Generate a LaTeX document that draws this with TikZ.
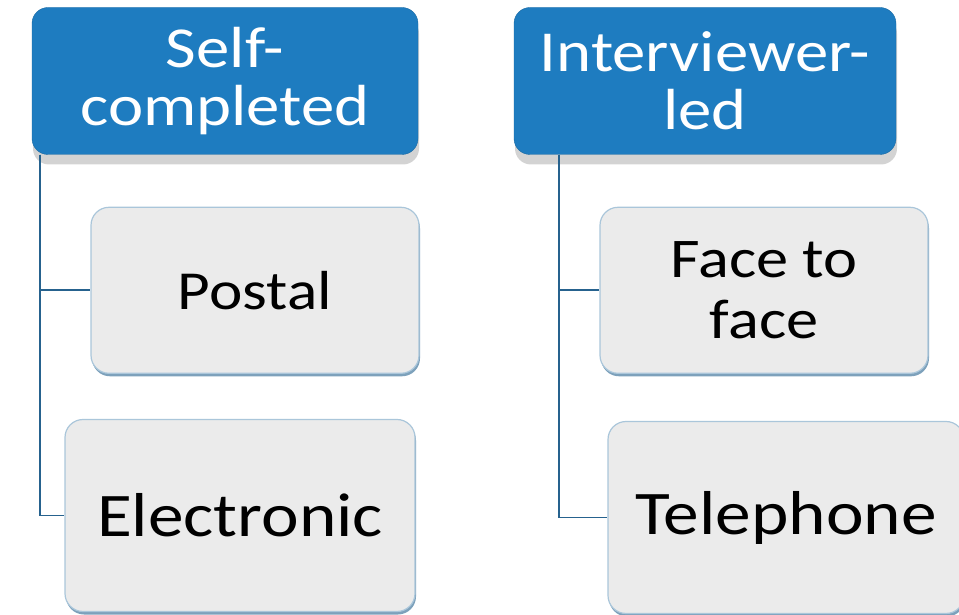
\documentclass[tikz,border=0pt]{standalone}
\usepackage{fontspec}
\setmainfont{Carlito}[FakeStretch=1.15]
\usepackage{tikz}
\usetikzlibrary{positioning,shadows}
\definecolor{hdrblue}{RGB}{30,124,192}
\definecolor{itemgray}{RGB}{235,235,235}
\definecolor{itemedge}{RGB}{170,198,218}
\definecolor{linkblue}{RGB}{38,98,142}

\begin{document}
\begin{tikzpicture}[x=1pt, y=1pt,
    hdr block/.style={draw=hdrblue!85!black, fill=hdrblue, rounded corners=16pt, minimum width=386pt, minimum height=147pt, align=center, text=white, font=\fontsize{58}{58}\selectfont, drop shadow={shadow xshift=1pt, shadow yshift=-10pt, opacity=0.35}},
    item block/.style={draw=itemedge, fill=itemgray, line width=1.2pt, rounded corners=18pt, minimum width=328pt, minimum height=166pt, align=center, font=\fontsize{55}{61}\selectfont, drop shadow={shadow xshift=1pt, shadow yshift=-3pt, opacity=0.6, fill=linkblue}},
    link/.style={draw=linkblue, line width=1.8pt}]
    \useasboundingbox (0,0) rectangle (959,614);

    \node[hdr block] (self) at (225,533) {Self-\\completed};
    \node[item block, below=52pt of self, xshift=30pt] (postal) {Postal};
    \node[item block, below=45pt of postal, xshift=-15pt, minimum width=350pt, minimum height=192pt, font=\fontsize{62}{66}\selectfont] (elec) {Electronic};

    \node[hdr block, minimum width=382pt] (inter) at (705,533) {Interviewer-\\led};
    \node[item block, below=52pt of inter, xshift=59pt, font=\fontsize{56}{61}\selectfont] (face) {Face to\\face};
    \node[item block, below=47pt of face, xshift=22pt, minimum width=356pt, minimum height=192pt, font=\fontsize{62}{66}\selectfont] (tel) {Telephone};

    \draw[link] ([xshift=8pt]self.south west) |- (postal.west);
    \draw[link] ([xshift=8pt]self.south west) |- (elec.west);
    \draw[link] ([xshift=45pt]inter.south west) |- (face.west);
    \draw[link] ([xshift=45pt]inter.south west) |- (tel.west);

\end{tikzpicture}
\end{document}
